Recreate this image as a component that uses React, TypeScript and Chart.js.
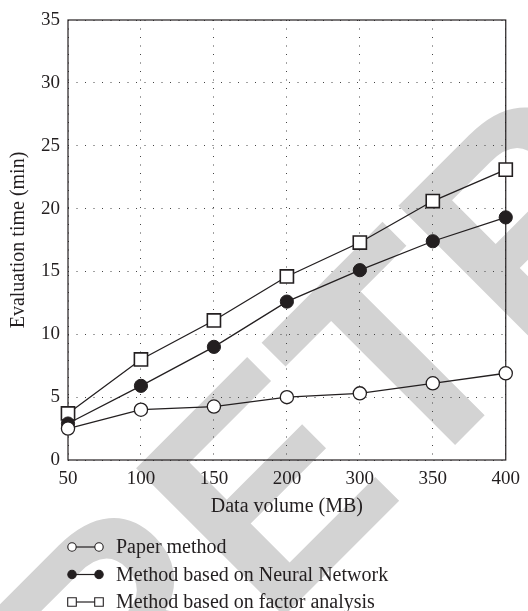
import React, { useEffect, useRef } from "react";
import { Chart, registerables } from "chart.js";

Chart.register(...registerables);

const categories = ["50", "100", "150", "200", "300", "350", "400"];
const paperMethod = [2.5, 4.0, 4.25, 5.0, 5.3, 6.1, 6.9];
const neuralNetwork = [2.9, 5.9, 9.0, 12.6, 15.1, 17.4, 19.3];
const factorAnalysis = [3.7, 8.0, 11.1, 14.6, 17.3, 20.6, 23.1];
const seriesNames = [
  "Paper method",
  "Method based on Neural Network",
  "Method based on factor analysis",
];
const xTitle = "Data volume (MB)";
const yTitle = "Evaluation time (min)";
const watermarkText = "RETRACTED";

const INK = "#231f20";
const SERIF = '"Liberation Serif", "Times New Roman", serif';

const watermarkPlugin = {
  id: "watermark",
  beforeDraw(chart: any) {
    const ctx = chart.ctx;
    ctx.save();
    ctx.translate(122, 778);
    ctx.rotate(-Math.PI / 4);
    ctx.scale(0.955, 1);
    ctx.font = 'bold 304px "Liberation Sans", Arial, sans-serif';
    ctx.fillStyle = "#d3d3d3";
    ctx.textBaseline = "alphabetic";
    ctx.textAlign = "left";
    ctx.fillText(watermarkText, 0, 0);
    ctx.restore();
  },
};

const boxPlugin = {
  id: "box",
  beforeDatasetsDraw(chart: any) {
    const { ctx, chartArea } = chart;
    ctx.save();
    ctx.strokeStyle = INK;
    ctx.lineWidth = 1.2;
    ctx.strokeRect(chartArea.left, chartArea.top, chartArea.right - chartArea.left, chartArea.bottom - chartArea.top);
    ctx.restore();
  },
};

const legendPlugin = {
  id: "customLegend",
  afterDraw(chart: any) {
    const { ctx, chartArea } = chart;
    const x0 = chartArea.left;
    const y0 = chartArea.bottom + 87;
    chart.data.datasets.forEach((ds: any, i: number) => {
      const y = y0 + i * 27.5;
      ctx.save();
      ctx.strokeStyle = INK;
      ctx.lineWidth = 1.2;
      ctx.beginPath();
      ctx.moveTo(x0 + 4, y);
      ctx.lineTo(x0 + 31, y);
      ctx.stroke();
      [x0 + 4, x0 + 31].forEach((cx) => {
        ctx.beginPath();
        if (ds.pointStyle === "rect") {
          ctx.rect(cx - 4.3, y - 4.3, 8.6, 8.6);
        } else {
          ctx.arc(cx, y, 4.2, 0, Math.PI * 2);
        }
        ctx.fillStyle = ds.pointBackgroundColor;
        ctx.fill();
        ctx.lineWidth = 1.1;
        ctx.stroke();
      });
      ctx.fillStyle = INK;
      ctx.font = `20px ${SERIF}`;
      ctx.textBaseline = "middle";
      ctx.textAlign = "left";
      ctx.fillText(ds.label, x0 + 48, y + 1);
      ctx.restore();
    });
  },
};

export default function App() {
  const canvasRef = useRef<HTMLCanvasElement>(null);

  useEffect(() => {
    const canvas = canvasRef.current;
    if (!canvas) return;
    const common = {
      borderColor: INK,
      borderWidth: 1.3,
      pointBorderColor: INK,
      tension: 0,
      clip: false as any,
    };
    const chart = new Chart(canvas, {
      type: "line",
      data: {
        labels: categories,
        datasets: [
          {
            ...common,
            label: seriesNames[0],
            data: paperMethod,
            pointStyle: "circle",
            pointRadius: 6.6,
            pointBorderWidth: 1.3,
            pointBackgroundColor: "#ffffff",
          },
          {
            ...common,
            label: seriesNames[1],
            data: neuralNetwork,
            pointStyle: "circle",
            pointRadius: 6.6,
            pointBorderWidth: 1,
            pointBackgroundColor: INK,
          },
          {
            ...common,
            label: seriesNames[2],
            data: factorAnalysis,
            pointStyle: "rect",
            pointRadius: 9.3,
            pointBorderWidth: 1.6,
            pointBackgroundColor: "#ffffff",
          },
        ] as any,
      },
      options: {
        animation: false,
        responsive: true,
        maintainAspectRatio: false,
        layout: { padding: { left: 0, top: 20, right: 21, bottom: 90 } },
        plugins: {
          legend: { display: false },
          tooltip: { enabled: false },
        },
        scales: {
          x: {
            type: "category",
            offset: false,
            grid: { color: "#444", lineWidth: 1, drawTicks: false },
            border: { display: false, dash: [1, 7.5] },
            ticks: {
              color: INK,
              padding: 8,
              font: { family: SERIF, size: 19 },
              maxRotation: 0,
            },
            title: {
              display: true,
              text: xTitle,
              color: INK,
              font: { family: SERIF, size: 20 },
              padding: { top: 0, bottom: 2 },
            },
            afterFit(scale: any) {
              scale.height = 61;
            },
          },
          y: {
            min: 0,
            max: 35,
            grid: { color: "#444", lineWidth: 1, drawTicks: false },
            border: { display: false, dash: [1, 7.5] },
            ticks: {
              stepSize: 5,
              color: INK,
              padding: 8,
              font: { family: SERIF, size: 19 },
            },
            title: {
              display: true,
              text: yTitle,
              color: INK,
              font: { family: SERIF, size: 20 },
              padding: { top: 7, bottom: 7 },
            },
            afterFit(scale: any) {
              scale.width = 68;
            },
          },
        },
      } as any,
      plugins: [watermarkPlugin, boxPlugin, legendPlugin],
    });
    return () => chart.destroy();
  }, []);

  return (
    <div style={{ position: "fixed", left: 0, top: 0, width: 528, height: 611, background: "#fff" }}>
      <canvas ref={canvasRef} />
    </div>
  );
}
